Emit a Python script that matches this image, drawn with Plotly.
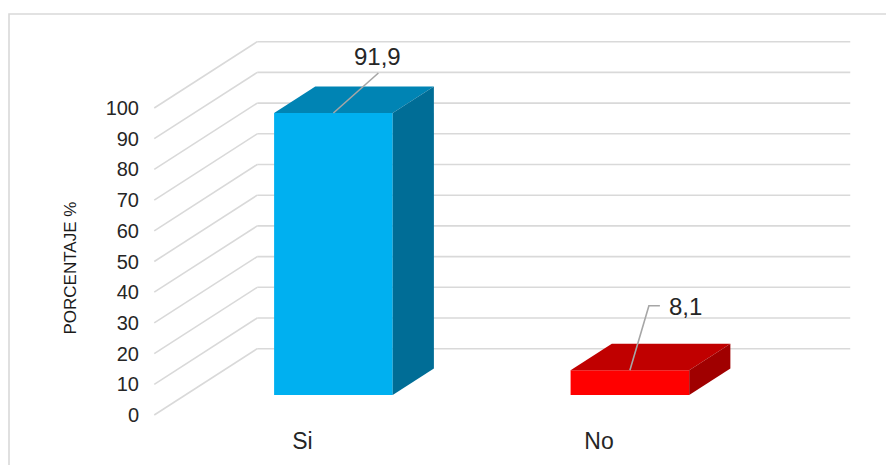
import plotly.graph_objects as go

# ---- data ----
categories = ["Si", "No"]
values = [91.9, 8.1]
value_labels = ["91,9", "8,1"]
tick_values = [0, 10, 20, 30, 40, 50, 60, 70, 80, 90, 100]
front_colors = ["#00B0F0", "#FF0000"]
top_colors = ["#0084B4", "#C00000"]
side_colors = ["#006D96", "#A00000"]

# ---- geometry (pixels) ----
FIG_W, FIG_H = 886, 465
L, B = 140, 40
PLOT_W, PLOT_H = FIG_W - L, FIG_H - B
PX_CAT = 296.5      # pixels per category step
PX_UNIT = 3.07      # pixels per value unit
CAT0_PX = 302.5     # pixel x of category 0 on the front plane
ZERO_PX = 415.0     # pixel y of value 0 on the front plane
DX = 103.0 / PX_CAT     # full-depth x offset (data units)
DY = 66.3 / PX_UNIT     # full-depth y offset (data units)
D0, D1 = 0.30, 0.70     # bar depth span
BAR_W = 0.40

x0 = -(CAT0_PX - L) / PX_CAT
x1 = x0 + PLOT_W / PX_CAT
y1 = ZERO_PX / PX_UNIT
y0 = y1 - PLOT_H / PX_UNIT


def P(c, v, d):
    return c + d * DX, v + d * DY


fig = go.Figure()

# gridlines (floor diagonals + back wall)
shapes = []
GRID = dict(color="#D9D9D9", width=1.6)
for v in tick_values:
    ax_, ay_ = P(-0.5, v, 0)
    bx_, by_ = P(-0.5, v, 1)
    cx_, cy_ = P(1.5, v, 1)
    shapes.append(dict(type="line", xref="x", yref="y", x0=ax_, y0=ay_, x1=bx_, y1=by_,
                       line=GRID, layer="below"))
    shapes.append(dict(type="line", xref="x", yref="y", x0=bx_, y0=by_, x1=cx_, y1=cy_,
                       line=GRID, layer="below"))

# outer chart border
shapes.append(dict(type="rect", xref="paper", yref="paper",
                   x0=(9 - L) / PLOT_W, x1=1.2,
                   y0=-0.3, y1=(PLOT_H - 14) / PLOT_H,
                   line=dict(color="#D9D9D9", width=1.6), fillcolor="rgba(0,0,0,0)",
                   layer="below"))

# front faces as bars
cats = list(range(len(categories)))
fig.add_trace(go.Bar(
    x=[c + D0 * DX for c in cats], y=values, base=D0 * DY, width=BAR_W,
    marker=dict(color=front_colors, line=dict(width=0)),
    hoverinfo="skip", showlegend=False))

# top and side faces
for c, v, tc, sc in zip(cats, values, top_colors, side_colors):
    l, r = c - BAR_W / 2, c + BAR_W / 2
    pts = [P(l, v, D0), P(r, v, D0), P(r, v, D1), P(l, v, D1), P(l, v, D0)]
    fig.add_trace(go.Scatter(x=[p[0] for p in pts], y=[p[1] for p in pts], mode="lines",
                             fill="toself", fillcolor=tc, line=dict(width=0, color=tc),
                             hoverinfo="skip", showlegend=False))
    pts = [P(r, 0, D0), P(r, v, D0), P(r, v, D1), P(r, 0, D1), P(r, 0, D0)]
    fig.add_trace(go.Scatter(x=[p[0] for p in pts], y=[p[1] for p in pts], mode="lines",
                             fill="toself", fillcolor=sc, line=dict(width=0, color=sc),
                             hoverinfo="skip", showlegend=False))

# leader lines (pixel offsets from the front-top edge centre)
leader_offsets = [[(0, 0), (45, -40)], [(0, 0), (19, -64.5), (30, -64.5)]]
label_offsets = [(44, -56, "center"), (37, -64, "left")]
annotations = []
for c, v, lab, lo, lb in zip(cats, values, value_labels, leader_offsets, label_offsets):
    sx, sy = P(c, v, D0)
    fig.add_trace(go.Scatter(
        x=[sx + dx / PX_CAT for dx, dy in lo], y=[sy - dy / PX_UNIT for dx, dy in lo],
        mode="lines", line=dict(color="#A6A6A6", width=1.6),
        hoverinfo="skip", showlegend=False))
    annotations.append(dict(x=sx + lb[0] / PX_CAT, y=sy - lb[1] / PX_UNIT, xref="x", yref="y",
                            text=lab, showarrow=False, xanchor=lb[2], yanchor="middle",
                            font=dict(family="Liberation Sans, Arial", size=24, color="#262626")))

annotations.append(dict(x=(69.5 - L) / PLOT_W, y=(PLOT_H - 268) / PLOT_H, xref="paper", yref="paper",
                        text="PORCENTAJE %", textangle=-90, showarrow=False,
                        xanchor="center", yanchor="middle",
                        font=dict(family="Liberation Sans Narrow, Arial Narrow, Liberation Sans",
                                  size=17, color="#1a1a1a")))

fig.update_layout(
    width=FIG_W, height=FIG_H,
    margin=dict(l=L, r=0, t=0, b=B),
    paper_bgcolor="white", plot_bgcolor="white",
    shapes=shapes, annotations=annotations,
    xaxis=dict(range=[x0, x1], tickvals=cats, ticktext=categories, showgrid=False,
               zeroline=False, showline=False, ticks="",
               tickfont=dict(family="Liberation Sans, Arial", size=23, color="#262626")),
    yaxis=dict(range=[y0, y1], tickvals=tick_values, showgrid=False, zeroline=False,
               showline=False, ticks="",
               tickfont=dict(family="Liberation Sans, Arial", size=20, color="#262626")),
    font=dict(family="Liberation Sans, Arial"),
)

fig.write_html("out.html", config={"displayModeBar": False},
               post_script="document.body.style.margin='0';document.body.style.overflow='hidden';")
